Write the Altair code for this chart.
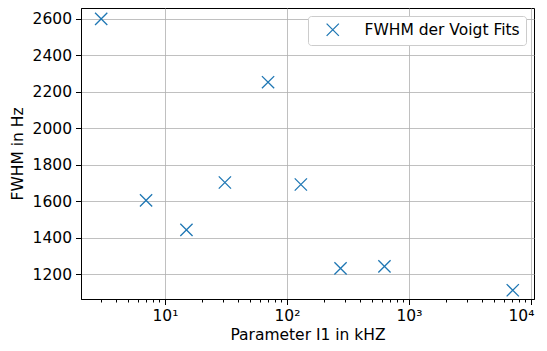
import altair as alt
import pandas as pd

param_khz = [3, 7, 15, 31, 70, 130, 275, 630, 7100]
fwhm_hz = [2600, 1605, 1443, 1703, 2253, 1692, 1232, 1243, 1112]
series = ["FWHM der Voigt Fits"] * len(param_khz)

major_x = [10, 100, 1000, 10000]
minor_x = [m * 10 ** e for e in range(0, 4) for m in range(2, 10) if 2.05 < m * 10 ** e < 10500]
y_ticks = [1200, 1400, 1600, 1800, 2000, 2200, 2400, 2600]

df = pd.DataFrame({"x": param_khz, "y": fwhm_hz, "s": series})

FONT = "DejaVu Sans"
FS = 15.5
xscale = alt.Scale(type="log", domain=[2.05, 10600], nice=False)
yscale = alt.Scale(domain=[1064, 2660], nice=False, zero=False)

xmark = "M-1,-1L1,1M-1,1L1,-1"

points = alt.Chart(df).mark_point(
    shape=xmark, size=150, strokeWidth=1.3, filled=False, opacity=1
).encode(
    x=alt.X("x:Q", scale=xscale, title="Parameter I1 in kHZ",
            axis=alt.Axis(values=major_x, orient="bottom",
                          labelExpr="'10' + (round(log(datum.value)/log(10)) == 1 ? '¹' : round(log(datum.value)/log(10)) == 2 ? '²' : round(log(datum.value)/log(10)) == 3 ? '³' : '⁴')",
                          labelFlush=5, labelFlushOffset=3,
                          grid=True, gridColor="#b0b0b0", gridWidth=0.8,
                          tickColor="black", tickSize=5.5, domainColor="black",
                          labelFontSize=FS, titleFontSize=FS, labelFont=FONT, titleFont=FONT,
                          labelColor="black", titleColor="black", titleFontWeight="normal",
                          labelPadding=4, titlePadding=3)),
    y=alt.Y("y:Q", scale=yscale, title="FWHM in Hz",
            axis=alt.Axis(values=y_ticks, format="d", grid=True, gridColor="#b0b0b0", gridWidth=0.8,
                          tickColor="black", tickSize=5.5, domainColor="black",
                          labelFontSize=FS, titleFontSize=FS, labelFont=FONT, titleFont=FONT,
                          labelColor="black", titleColor="black", titleFontWeight="normal",
                          labelPadding=4, titlePadding=7)),
    color=alt.Color("s:N", scale=alt.Scale(range=["#1f77b4"]),
                    legend=alt.Legend(title=None, orient="top-right", offset=8,
                                      labelFont=FONT, labelFontSize=FS, labelColor="black",
                                      symbolType=xmark, symbolSize=150, symbolStrokeWidth=1.3,
                                      symbolFillColor="transparent",
                                      strokeColor="#cccccc", fillColor="white",
                                      padding=6, cornerRadius=3, symbolOffset=11,
                                      labelOffset=24, rowPadding=0)),
)

minor = alt.Chart(pd.DataFrame({"x": minor_x})).mark_point(opacity=0).encode(
    x=alt.X("x:Q", scale=xscale,
            axis=alt.Axis(values=minor_x, orient="bottom", labels=False, grid=False, tickSize=3,
                          tickColor="black", domain=False, title=None)),
)

chart = alt.layer(points, minor).resolve_axis(x="independent").properties(
    width=453, height=291,
    background="white",
    autosize=alt.AutoSizeParams(type="none"),
    padding={"left": 73, "top": 0, "right": 5, "bottom": 44},
).configure_view(stroke="black", strokeWidth=1)

chart.save("out.html", embed_options={"renderer": "svg", "actions": False})
